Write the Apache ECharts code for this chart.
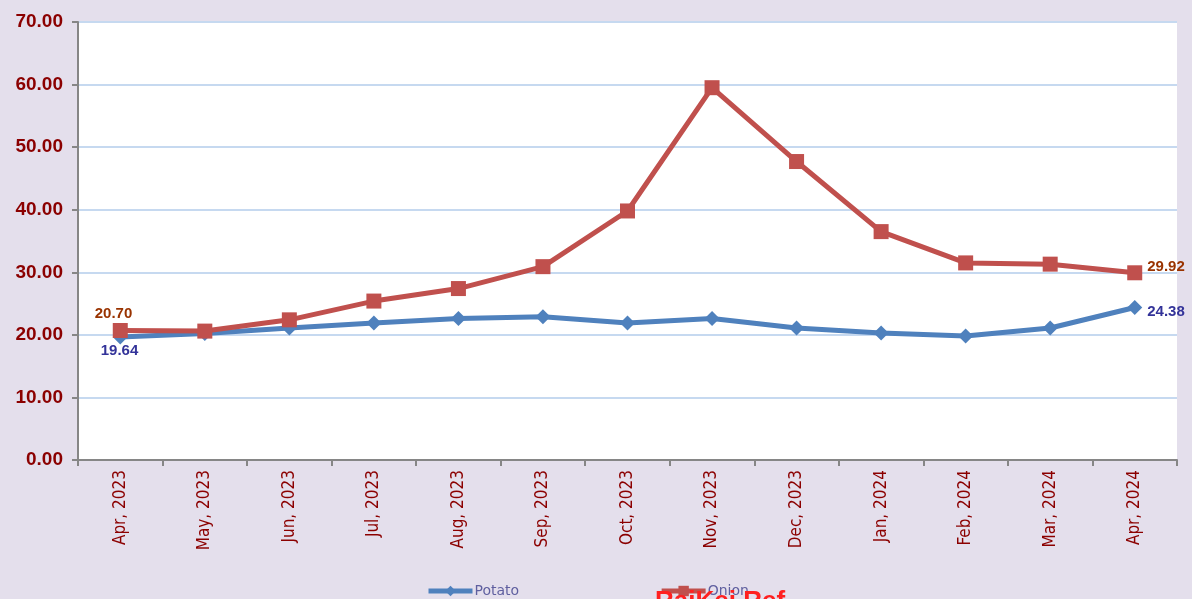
<!DOCTYPE html>
<html>
<head>
<meta charset="utf-8">
<script src="https://cdn.jsdelivr.net/npm/echarts@6/dist/echarts.min.js"></script>
<style>
  html, body { margin: 0; padding: 0; background: #E4DFEC; }
  #chart { width: 1192px; height: 599px; }
</style>
</head>
<body>
<div id="chart"></div>
<script>
// Monthly prices
const months = ['Apr, 2023', 'May, 2023', 'Jun, 2023', 'Jul, 2023', 'Aug, 2023', 'Sep, 2023',
    'Oct, 2023', 'Nov, 2023', 'Dec, 2023', 'Jan, 2024', 'Feb, 2024', 'Mar, 2024', 'Apr, 2024'];
const potato = [19.64, 20.2, 21.1, 21.9, 22.6, 22.9, 21.9, 22.6, 21.1, 20.3, 19.8, 21.1, 24.38];
const onion = [20.70, 20.6, 22.4, 25.4, 27.4, 30.9, 39.8, 59.5, 47.7, 36.5, 31.5, 31.3, 29.92];

// only first and last points carry a label
const edgeLabel = (val, idx, last) => (idx === 0 || idx === last) ? val.toFixed(2) : '';

let chart = echarts.init(document.getElementById('chart'));

let option = {
    backgroundColor: '#E4DFEC',
    animation: false,
    grid: {
        left: 78,
        right: 15,
        top: 22,
        bottom: 139,
        show: true,
        backgroundColor: '#ffffff',
        borderWidth: 0
    },
    legend: {
        bottom: -4,
        left: 421,
        itemGap: 140,
        itemWidth: 44,
        itemHeight: 13,
        lineStyle: { width: 5 },
        textStyle: {
            color: '#5F5F9F',
            fontFamily: 'DejaVu Sans',
            fontSize: 14,
            padding: [0, 0, 0, -3]
        },
        data: ['Potato', 'Onion']
    },
    xAxis: {
        type: 'category',
        data: months,
        boundaryGap: true,
        axisLine: { lineStyle: { color: '#868686', width: 2 } },
        axisTick: { show: true, length: 6, lineStyle: { color: '#868686', width: 2 } },
        axisLabel: {
            rotate: 90,
            margin: 10,
            color: '#8B0000',
            fontFamily: 'DejaVu Sans Condensed',
            fontSize: 17
        }
    },
    yAxis: {
        type: 'value',
        min: 0,
        max: 70,
        interval: 10,
        axisLine: { show: true, lineStyle: { color: '#868686', width: 2 } },
        axisTick: { show: true, length: 6, lineStyle: { color: '#868686', width: 2 } },
        splitLine: { lineStyle: { color: '#C6D9F0', width: 2 } },
        axisLabel: {
            margin: 15,
            color: '#8B0000',
            fontFamily: 'Liberation Sans',
            fontWeight: 'bold',
            fontSize: 19,
            formatter: v => v.toFixed(2)
        }
    },
    series: [
        {
            name: 'Potato',
            type: 'line',
            data: potato,
            symbol: 'diamond',
            symbolSize: 15,
            itemStyle: { color: '#4F81BD' },
            lineStyle: { width: 5, color: '#4F81BD' },
            label: {
                show: true,
                position: 'right',
                color: '#333399',
                fontWeight: 'bold',
                fontFamily: 'Liberation Sans',
                fontSize: 15,
                formatter: p => edgeLabel(p.value, p.dataIndex, potato.length - 1)
            },
            labelLayout: p => p.dataIndex === 0 ? { dx: -32, dy: 14 } : { dx: 0, dy: 4 },
            z: 2
        },
        {
            name: 'Onion',
            type: 'line',
            data: onion,
            symbol: 'rect',
            symbolSize: 15,
            itemStyle: { color: '#C0504D' },
            lineStyle: { width: 5, color: '#C0504D' },
            label: {
                show: true,
                position: 'right',
                color: '#993300',
                fontWeight: 'bold',
                fontFamily: 'Liberation Sans',
                fontSize: 15,
                formatter: p => edgeLabel(p.value, p.dataIndex, onion.length - 1)
            },
            labelLayout: p => p.dataIndex === 0 ? { dx: -38, dy: -17 } : { dx: 0, dy: -6 },
            z: 3
        }
    ],
    graphic: [
        {
            type: 'text',
            left: 655,
            top: 589,
            style: {
                text: 'RaiKei Ref',
                fill: '#FF2020',
                font: 'bold 26px "Liberation Sans"'
            },
            z: 10
        }
    ]
};

chart.setOption(option);
</script>
</body>
</html>
